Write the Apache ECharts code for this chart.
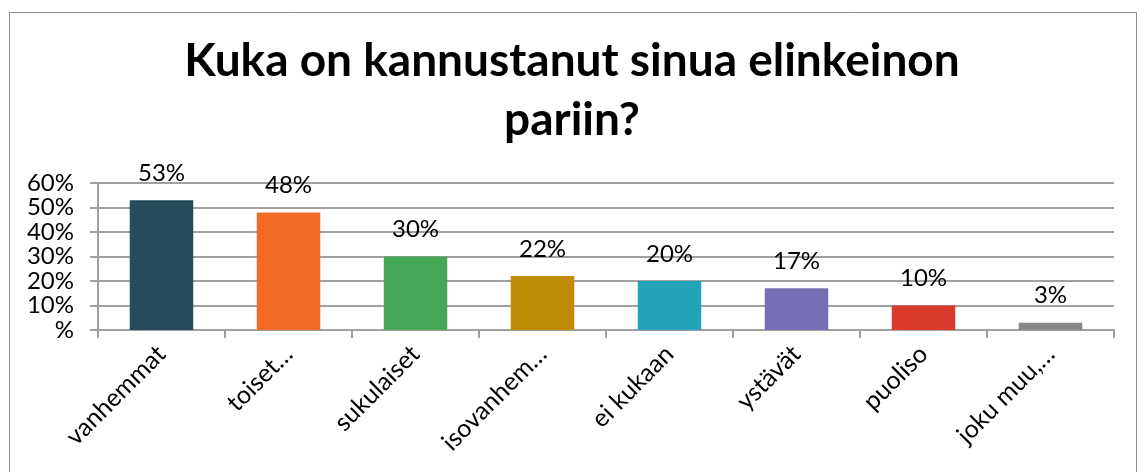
<!DOCTYPE html>
<html>
<head>
<meta charset="utf-8">
<script src="https://cdn.jsdelivr.net/npm/echarts@6/dist/echarts.min.js"></script>
<style>
  html, body { margin: 0; padding: 0; background: #fff; }
  #chart { width: 1144px; height: 472px; }
</style>
</head>
<body>
<div id="chart"></div>
<script>
const categories = ['vanhemmat', 'toiset…', 'sukulaiset', 'isovanhem…', 'ei kukaan', 'ystävät', 'puoliso', 'joku muu,…']
const values = [53, 48, 30, 22, 20, 17, 10, 3]
const barColors = ['#244c5a', '#f26b25', '#45a857', '#c08b04', '#23a3b8', '#7570b3', '#d93a2b', '#878787']
const yTicks = [0, 10, 20, 30, 40, 50, 60]

const font = 'Lato, "Open Sans", sans-serif'
const chart = echarts.init(document.getElementById('chart'))

chart.setOption({
  animation: false,
  title: {
    text: 'Kuka on kannustanut sinua elinkeinon\npariin?',
    left: 'center',
    top: 27,
    textStyle: {
      fontFamily: font,
      fontWeight: 'bold',
      fontSize: 46,
      lineHeight: 59,
      color: '#000',
    },
  },
  // 外框
  graphic: [
    {
      type: 'rect',
      shape: { x: 9.5, y: 12.5, width: 1127, height: 470 },
      style: { fill: 'none', stroke: '#8c8c8c', lineWidth: 1 },
    },
  ],
  grid: {
    left: 98,
    right: 30,
    top: 183,
    bottom: 142,
  },
  xAxis: {
    type: 'category',
    data: categories,
    axisLine: { lineStyle: { color: '#a0a0a0', width: 2 } },
    axisTick: { show: true, length: 8, inside: false, lineStyle: { color: '#a0a0a0', width: 2 } },
    axisLabel: {
      rotate: 45,
      interval: 0,
      margin: 20,
      fontFamily: font,
      fontSize: 25,
      color: '#000',
    },
  },
  yAxis: {
    type: 'value',
    min: yTicks[0],
    max: yTicks[yTicks.length - 1],
    interval: 10,
    axisLine: { show: true, lineStyle: { color: '#a0a0a0', width: 2 } },
    axisTick: { show: true, length: 8, lineStyle: { color: '#a0a0a0', width: 2 } },
    splitLine: { show: true, lineStyle: { color: '#a0a0a0', width: 2 } },
    axisLabel: {
      margin: 24,
      fontFamily: font,
      fontSize: 24,
      color: '#000',
      formatter: (v) => (v === 0 ? '%' : v + '%'),
    },
  },
  series: [
    {
      type: 'bar',
      data: values.map((v, i) => ({ value: v, itemStyle: { color: barColors[i] } })),
      barWidth: '50%',
      label: {
        show: true,
        position: 'top',
        distance: 15,
        fontFamily: font,
        fontSize: 24,
        color: '#000',
        formatter: (p) => p.value + '%',
      },
    },
  ],
})
</script>
</body>
</html>
